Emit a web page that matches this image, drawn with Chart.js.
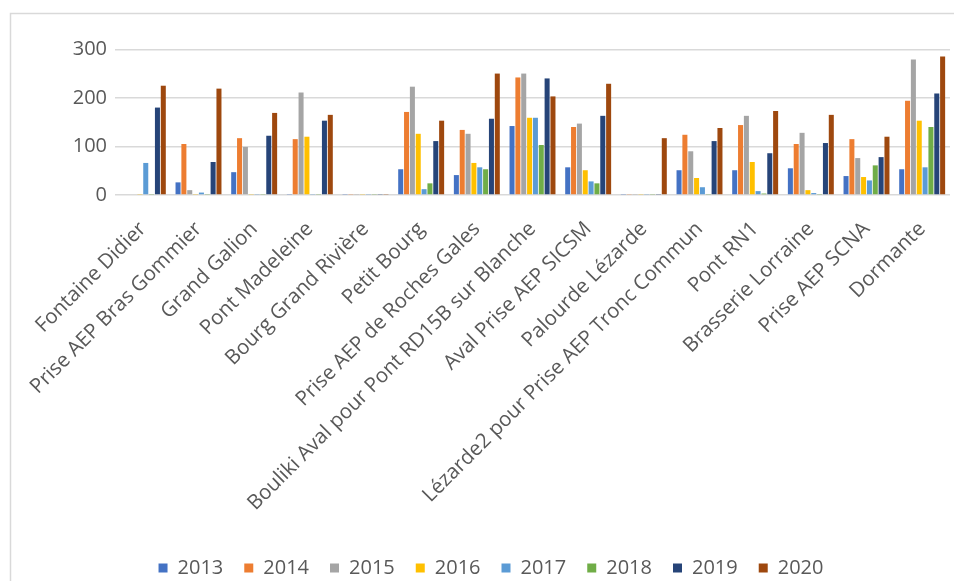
<!DOCTYPE html>
<html>
<head>
<meta charset="utf-8">
<script src="https://cdn.jsdelivr.net/npm/chart.js@4/dist/chart.umd.min.js"></script>
<style>
  html, body { margin: 0; padding: 0; background: #fff; }
  #wrap { width: 954px; height: 581px; }
</style>
</head>
<body>
<div id="wrap"><canvas id="chart" width="954" height="581"></canvas></div>
<script>
const sites = [
  "Fontaine Didier",
  "Prise AEP Bras Gommier",
  "Grand Galion",
  "Pont Madeleine",
  "Bourg Grand Rivière",
  "Petit Bourg",
  "Prise AEP de Roches Gales",
  "Bouliki Aval pour Pont RD15B sur Blanche",
  "Aval Prise AEP SICSM",
  "Palourde Lézarde",
  "Lézarde2 pour Prise AEP Tronc Commun",
  "Pont RN1",
  "Brasserie Lorraine",
  "Prise AEP SCNA",
  "Dormante"
];

const years = ["2013", "2014", "2015", "2016", "2017", "2018", "2019", "2020"];

const v2013 = [0, 26, 47, 1, 1, 53, 41, 142, 57, 1, 51, 51, 55, 39, 53];
const v2014 = [0, 105, 117, 115, 1, 171, 134, 242, 140, 2, 124, 144, 105, 115, 194];
const v2015 = [0, 10, 99, 211, 1, 223, 126, 250, 147, 1, 90, 163, 128, 76, 279];
const v2016 = [1, 1, 1, 120, 1, 126, 66, 159, 51, 1, 35, 68, 10, 37, 153];
const v2017 = [66, 5, 1, 1, 1, 12, 57, 159, 28, 1, 16, 8, 4, 30, 57];
const v2018 = [1, 1, 1, 1, 1, 24, 53, 103, 24, 1, 1, 3, 1, 61, 140];
const v2019 = [180, 68, 122, 153, 1, 111, 157, 240, 163, 1, 111, 86, 107, 78, 209];
const v2020 = [225, 219, 169, 165, 1, 153, 250, 203, 229, 117, 138, 173, 165, 120, 285];

const yTicks = [0, 100, 200, 300];

const series = [v2013, v2014, v2015, v2016, v2017, v2018, v2019, v2020];
const colors = ["#4472C4", "#ED7D31", "#A5A5A5", "#FFC000", "#5B9BD5", "#70AD47", "#264478", "#9E480E"];

// light frame around the chart
const frame = {
  id: "frame",
  beforeDraw(chart) {
    const c = chart.ctx;
    c.save();
    c.strokeStyle = "#d9d9d9";
    c.lineWidth = 1.5;
    c.beginPath();
    c.moveTo(10.5, 600);
    c.lineTo(10.5, 13.5);
    c.lineTo(960, 13.5);
    c.stroke();
    c.restore();
  }
};

new Chart(document.getElementById("chart"), {
  type: "bar",
  data: {
    labels: sites,
    datasets: years.map((y, i) => ({
      label: y,
      data: series[i],
      backgroundColor: colors[i],
      categoryPercentage: 0.84,
      barPercentage: 0.86
    }))
  },
  options: {
    responsive: false,
    animation: false,
    layout: { padding: { top: 25, right: 4, bottom: -7, left: 32 } },
    plugins: {
      tooltip: { enabled: false },
      legend: {
        position: "bottom",
        labels: {
          boxWidth: 9,
          boxHeight: 9,
          padding: 21,
          color: "#595959",
          font: { family: "'Open Sans'", size: 20 }
        }
      }
    },
    scales: {
      x: {
        grid: { display: false },
        border: { display: false },
        ticks: {
          minRotation: 45,
          maxRotation: 45,
          autoSkip: false,
          padding: 14,
          color: "#595959",
          font: { family: "'Open Sans'", size: 20.5 }
        },
        afterFit(s) { s.height = 342; }
      },
      y: {
        min: 0,
        max: 350,
        border: { display: false },
        grid: { color: "#d9d9d9", lineWidth: 1.5, drawTicks: false },
        ticks: {
          stepSize: 50,
          padding: 8,
          color: "#595959",
          font: { family: "'Open Sans'", size: 20 },
          callback: v => (yTicks.includes(v) ? v : "")
        },
        afterFit(s) { s.width = 83; }
      }
    }
  },
  plugins: [frame]
});
</script>
</body>
</html>
